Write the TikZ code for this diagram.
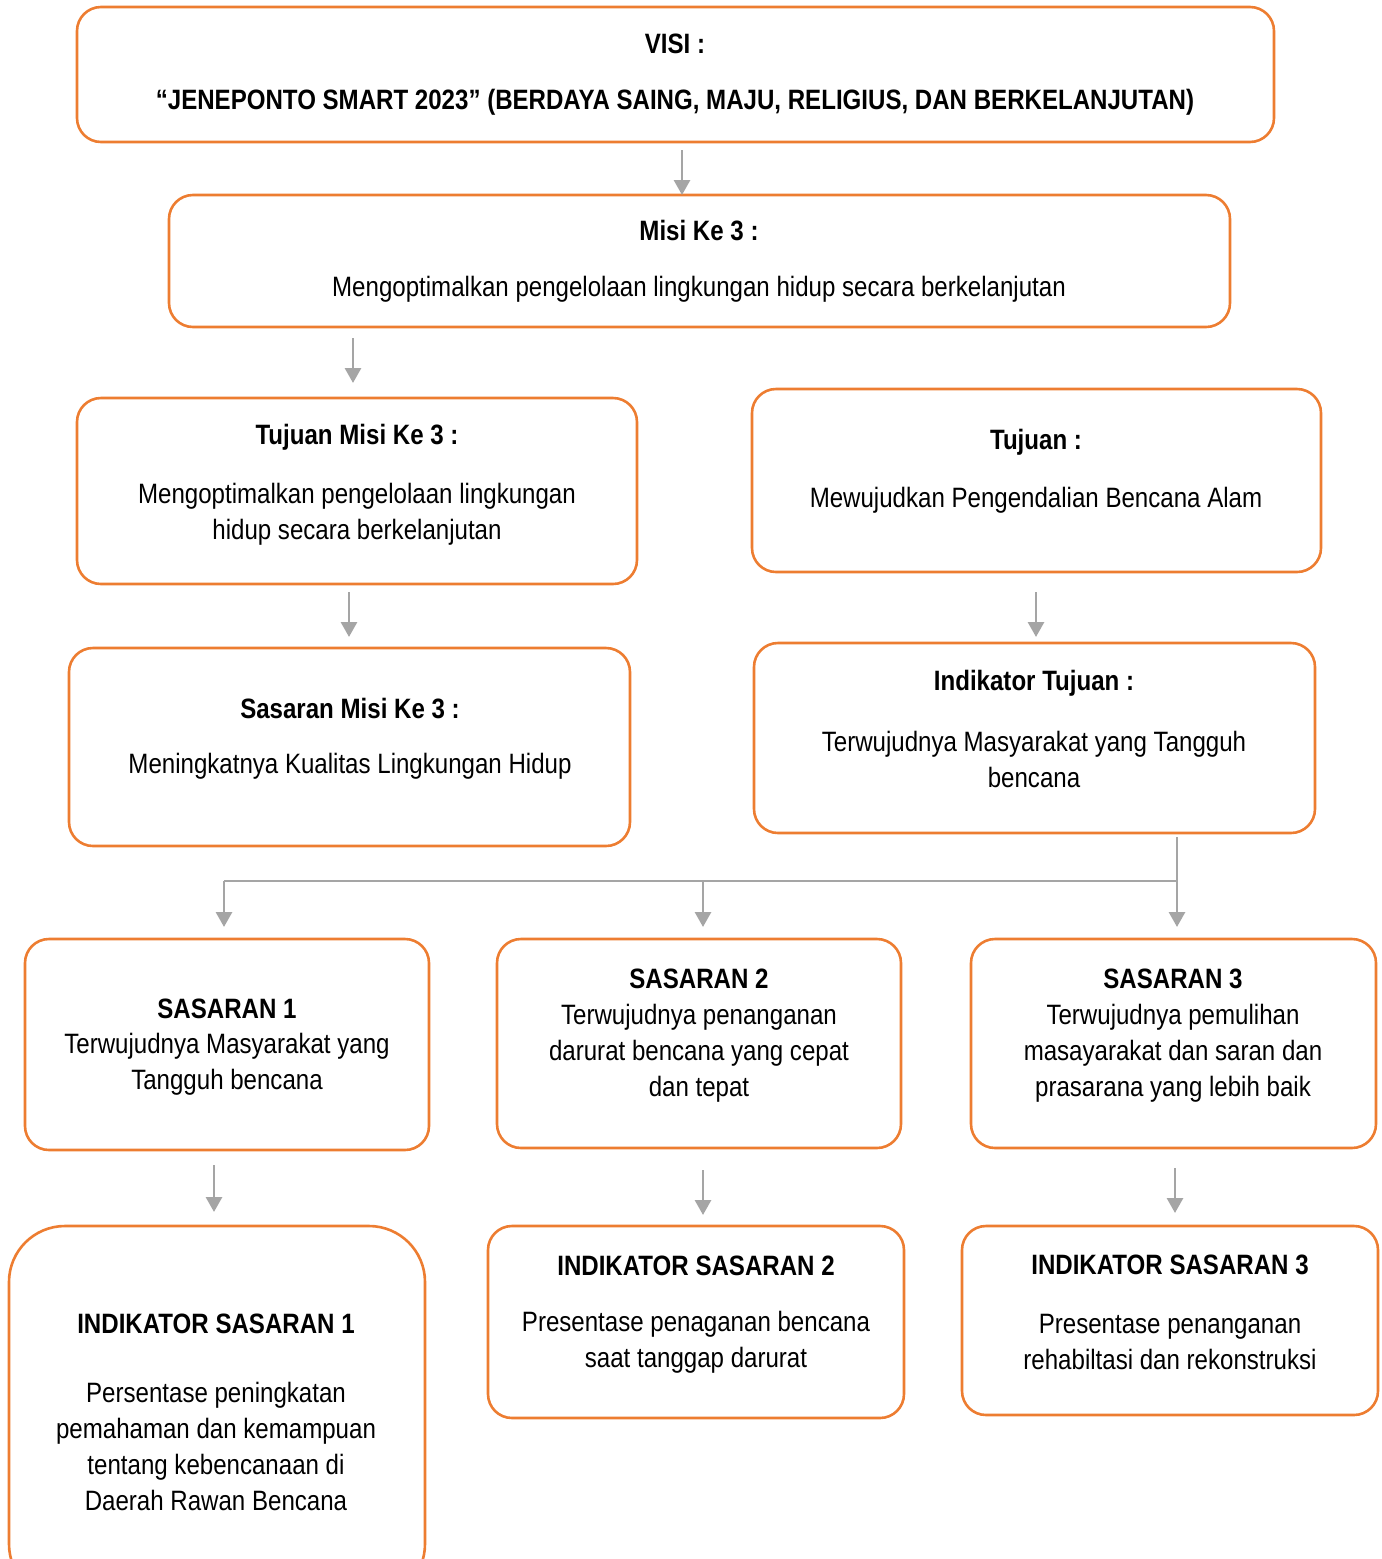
\documentclass[tikz,border=0pt]{standalone}
\usepackage{fontspec}
\setmainfont{Liberation Sans}[FakeStretch=0.86]
\usetikzlibrary{arrows.meta}
\definecolor{borange}{HTML}{ED7D31}
\definecolor{agray}{HTML}{A5A5A5}
\begin{document}
\begin{tikzpicture}[x=0.5pt,y=-0.5pt,
  box/.style={draw=borange,line width=1.3pt,rounded corners=12pt,fill=white},
  bigbox/.style={box,rounded corners=28pt},
  txt/.style={font=\fontsize{14}{18}\selectfont,align=center,inner sep=0pt,yshift=-1pt},
  ttl/.style={txt,font=\fontsize{14}{18}\selectfont\bfseries},
  arr/.style={draw=agray,line width=1.45pt,-{Triangle[width=8pt,length=7.5pt]}},
  ln/.style={draw=agray,line width=1.45pt}]
\useasboundingbox (0,0) rectangle (1382,1559);
\clip (0,0) rectangle (1382,1559);
% boxes
\path[box] (77,7) rectangle (1274,142);
\node[ttl] (visiA) at (675,42) {VISI :};
\node[ttl] (visiB) at (675,100) {“JENEPONTO SMART 2023” (BERDAYA SAING, MAJU, RELIGIUS, DAN BERKELANJUTAN)};

\path[box] (169,195) rectangle (1230,327);
\node[ttl] (misiA) at (699,229) {Misi Ke 3 :};
\node[txt] (misiB) at (699,287) {Mengoptimalkan pengelolaan lingkungan hidup secara berkelanjutan};

\path[box] (77,398) rectangle (637,584);
\node[ttl] (tmA) at (357,435) {Tujuan Misi Ke 3 :};
\node[txt] (tmB) at (357,512) {Mengoptimalkan pengelolaan lingkungan\\hidup secara berkelanjutan};

\path[box] (752,389) rectangle (1321,572);
\node[ttl] (tjA) at (1036,440) {Tujuan :};
\node[txt] (tjB) at (1036,498) {Mewujudkan Pengendalian Bencana Alam};

\path[box] (69,648) rectangle (630,846);
\node[ttl] (smA) at (350,707) {Sasaran Misi Ke 3 :};
\node[txt] (smB) at (350,764) {Meningkatnya Kualitas Lingkungan Hidup};

\path[box] (754,643) rectangle (1315,833);
\node[ttl] (itA) at (1034,681) {Indikator Tujuan :};
\node[txt] (itB) at (1034,757) {Terwujudnya Masyarakat yang Tangguh\\bencana};

\path[box] (25,939) rectangle (429,1150);
\node[ttl] (s1A) at (227,1007) {SASARAN 1};
\node[txt] (s1B) at (227,1062) {Terwujudnya Masyarakat yang\\Tangguh bencana};

\path[box] (497,939) rectangle (901,1148);
\node[ttl] (s2A) at (699,977) {SASARAN 2};
\node[txt] (s2B) at (699,1051) {Terwujudnya penanganan\\darurat bencana yang cepat\\dan tepat};

\path[box] (971,939) rectangle (1376,1148);
\node[ttl] (s3A) at (1173,977) {SASARAN 3};
\node[txt] (s3B) at (1173,1051) {Terwujudnya pemulihan\\masayarakat dan saran dan\\prasarana yang lebih baik};

\path[bigbox] (9,1226) rectangle (425,1600);
\node[ttl] (i1A) at (216,1322) {INDIKATOR SASARAN 1};
\node[txt] (i1B) at (216,1444) {Persentase peningkatan\\pemahaman dan kemampuan\\tentang kebencanaan di\\Daerah Rawan Bencana};

\path[box] (488,1226) rectangle (904,1418);
\node[ttl] (i2A) at (696,1264) {INDIKATOR SASARAN 2};
\node[txt] (i2B) at (696,1340) {Presentase penaganan bencana\\saat tanggap darurat};

\path[box] (962,1226) rectangle (1378,1415);
\node[ttl] (i3A) at (1170,1263) {INDIKATOR SASARAN 3};
\node[txt] (i3B) at (1170,1340) {Presentase penanganan\\rehabiltasi dan rekonstruksi};

% arrows
\coordinate (a1s) at (682,150); \coordinate (a1e) at (682,195);
\draw[arr] (a1s) -- (a1e);
\coordinate (a2s) at (353,338); \coordinate (a2e) at (353,383);
\draw[arr] (a2s) -- (a2e);
\coordinate (a3s) at (349,592); \coordinate (a3e) at (349,637);
\draw[arr] (a3s) -- (a3e);
\coordinate (a4s) at (1036,592); \coordinate (a4e) at (1036,637);
\draw[arr] (a4s) -- (a4e);
\coordinate (b0) at (1177,837); \coordinate (b3) at (1177,927);
\coordinate (h1) at (224,881); \coordinate (h3) at (1177,881);
\coordinate (b1) at (224,927); \coordinate (h2) at (703,881); \coordinate (b2) at (703,927);
\draw[arr] (b0) -- (b3);
\draw[ln] (h3) -- (h1);
\draw[arr] (h1) -- (b1);
\draw[arr] (h2) -- (b2);
\coordinate (c1s) at (214,1165); \coordinate (c1e) at (214,1212);
\draw[arr] (c1s) -- (c1e);
\coordinate (c2s) at (703,1170); \coordinate (c2e) at (703,1215);
\draw[arr] (c2s) -- (c2e);
\coordinate (c3s) at (1175,1168); \coordinate (c3e) at (1175,1213);
\draw[arr] (c3s) -- (c3e);
\end{tikzpicture}
\end{document}
